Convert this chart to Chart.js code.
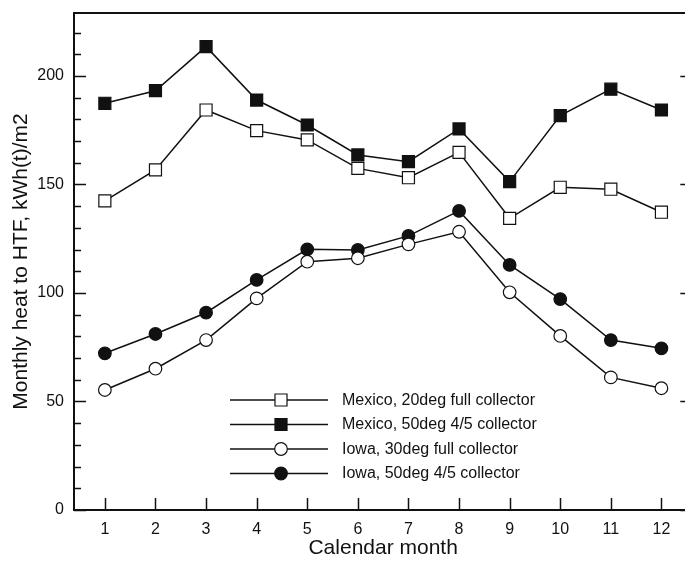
<!DOCTYPE html>
<html>
<head>
<meta charset="utf-8">
<script src="https://cdn.jsdelivr.net/npm/chart.js@4.4.1/dist/chart.umd.min.js"></script>
<style>
  html, body { margin: 0; padding: 0; background: #fff; overflow: hidden; }
  #wrap { width: 685px; height: 561px; overflow: hidden; position: relative; }
  canvas { display: block; }
</style>
</head>
<body>
<div id="wrap"><canvas id="c" width="702" height="561"></canvas></div>
<script>
// ---- data ----
const months = [1, 2, 3, 4, 5, 6, 7, 8, 9, 10, 11, 12];
const seriesLabels = [
  "Mexico, 20deg full collector",
  "Mexico, 50deg 4/5 collector",
  "Iowa, 30deg full collector",
  "Iowa, 50deg 4/5 collector"
];
const mexico20 = [142.4, 156.7, 184.3, 174.8, 170.5, 157.4, 153.1, 164.8, 134.4, 148.7, 147.8, 137.2];
const mexico50 = [187.4, 193.2, 213.5, 188.9, 177.4, 163.6, 160.5, 175.6, 151.3, 181.7, 193.9, 184.3];
const iowa30   = [55.3, 65.1, 78.3, 97.5, 114.4, 116.0, 122.4, 128.2, 100.3, 80.2, 61.1, 56.1];
const iowa50   = [72.2, 81.1, 90.9, 106.0, 120.1, 119.8, 126.3, 137.8, 112.9, 97.2, 78.3, 74.5];
const xTitle = "Calendar month";
const yTitle = "Monthly heat to HTF, kWh(t)/m2";
const yMajorStep = 50;
const yMinorStep = 10;

const FONT = "'Liberation Sans', Arial, Helvetica, sans-serif";
const INK = "#111";

function toXY(vals) { return vals.map((v, i) => ({ x: months[i], y: v })); }

const styles = [
  { pointStyle: 'rect',   fill: '#fff', r: 8.5 },
  { pointStyle: 'rect',   fill: INK,    r: 8.5 },
  { pointStyle: 'circle', fill: '#fff', r: 6.3 },
  { pointStyle: 'circle', fill: INK,    r: 6.3 }
];
const allSeries = [mexico20, mexico50, iowa30, iowa50];

const datasets = allSeries.map((vals, i) => ({
  label: seriesLabels[i],
  data: toXY(vals),
  borderColor: INK,
  borderWidth: 1.5,
  pointStyle: styles[i].pointStyle,
  pointRadius: styles[i].r,
  pointHoverRadius: styles[i].r,
  pointBackgroundColor: styles[i].fill,
  pointBorderColor: INK,
  pointBorderWidth: 1.2,
  tension: 0,
  fill: false
}));

// frame + inward ticks (positions from the library's scales)
const framePlugin = {
  id: 'frameTicks',
  beforeDatasetsDraw(chart) {
    const { ctx, chartArea: a, scales } = chart;
    ctx.save();
    ctx.strokeStyle = INK;
    ctx.lineWidth = 1.5;
    const ys = scales.y, xs = scales.x;
    for (let v = 0; v <= ys.max + 1e-9; v += yMinorStep) {
      const py = Math.round(ys.getPixelForValue(v)) + 0.5;
      const major = Math.abs(v % yMajorStep) < 1e-6;
      const len = major ? 12 : 7;
      ctx.beginPath();
      ctx.moveTo(a.left, py); ctx.lineTo(a.left + len, py);
      ctx.moveTo(a.right, py); ctx.lineTo(a.right - len, py);
      ctx.stroke();
    }
    xs.ticks.forEach(t => {
      const px = Math.round(xs.getPixelForValue(t.value)) + 0.5;
      ctx.beginPath();
      ctx.moveTo(px, a.bottom); ctx.lineTo(px, a.bottom - 12);
      ctx.stroke();
    });
    ctx.lineWidth = 2;
    ctx.strokeRect(a.left, a.top, a.right - a.left, a.bottom - a.top);
    ctx.restore();
  }
};

// legend inside the plot: line + marker + label
const legendPlugin = {
  id: 'innerLegend',
  afterDraw(chart) {
    const { ctx, chartArea: a } = chart;
    ctx.save();
    const x0 = a.left + 156, x1 = a.left + 254, xm = a.left + 207, xt = a.left + 268;
    const y0 = a.top + 387, dy = 24.5;
    chart.data.datasets.forEach((ds, i) => {
      const y = y0 + i * dy;
      ctx.strokeStyle = INK;
      ctx.lineWidth = 1.5;
      ctx.beginPath();
      ctx.moveTo(x0, y); ctx.lineTo(x1, y);
      ctx.stroke();
      ctx.fillStyle = ds.pointBackgroundColor;
      ctx.strokeStyle = ds.pointBorderColor;
      ctx.lineWidth = ds.pointBorderWidth;
      Chart.helpers.drawPoint(ctx, { pointStyle: ds.pointStyle, radius: ds.pointRadius, rotation: 0, borderWidth: ds.pointBorderWidth }, xm, y);
      ctx.fillStyle = INK;
      ctx.font = "16px " + FONT;
      ctx.textBaseline = 'middle';
      ctx.textAlign = 'left';
      ctx.fillText(ds.label, xt, y + 0.5);
    });
    ctx.restore();
  }
};

new Chart(document.getElementById('c'), {
  type: 'line',
  data: { datasets },
  options: {
    responsive: false,
    animation: false,
    events: [],
    layout: { padding: { left: 0, top: 13, right: 1, bottom: 0 } },
    plugins: { legend: { display: false }, tooltip: { enabled: false } },
    scales: {
      x: {
        type: 'linear',
        min: 0.39, max: 12.61,
        border: { display: false },
        grid: { display: false, drawTicks: false },
        ticks: { stepSize: 1, includeBounds: false, color: INK, font: { family: FONT, size: 16 }, padding: 10, maxRotation: 0 },
        title: { display: true, text: xTitle, color: INK, font: { family: FONT, size: 21 }, padding: { top: 0, bottom: 0 } },
        afterFit(s) { s.height = 51; s.paddingLeft = 0; s.paddingRight = 0; s.paddingTop = 0; s.paddingBottom = 0; }
      },
      y: {
        type: 'linear',
        min: 0, max: 229,
        border: { display: false },
        grid: { display: false, drawTicks: false },
        ticks: { stepSize: yMajorStep, includeBounds: false, color: INK, font: { family: FONT, size: 16 }, padding: 10 },
        title: { display: true, text: yTitle, color: INK, font: { family: FONT, size: 21 }, padding: { top: 9, bottom: 0 } },
        afterFit(s) { s.width = 74; s.paddingTop = 0; s.paddingBottom = 0; s.paddingLeft = 0; s.paddingRight = 0; }
      }
    }
  },
  plugins: [framePlugin, legendPlugin]
});
</script>
</body>
</html>
